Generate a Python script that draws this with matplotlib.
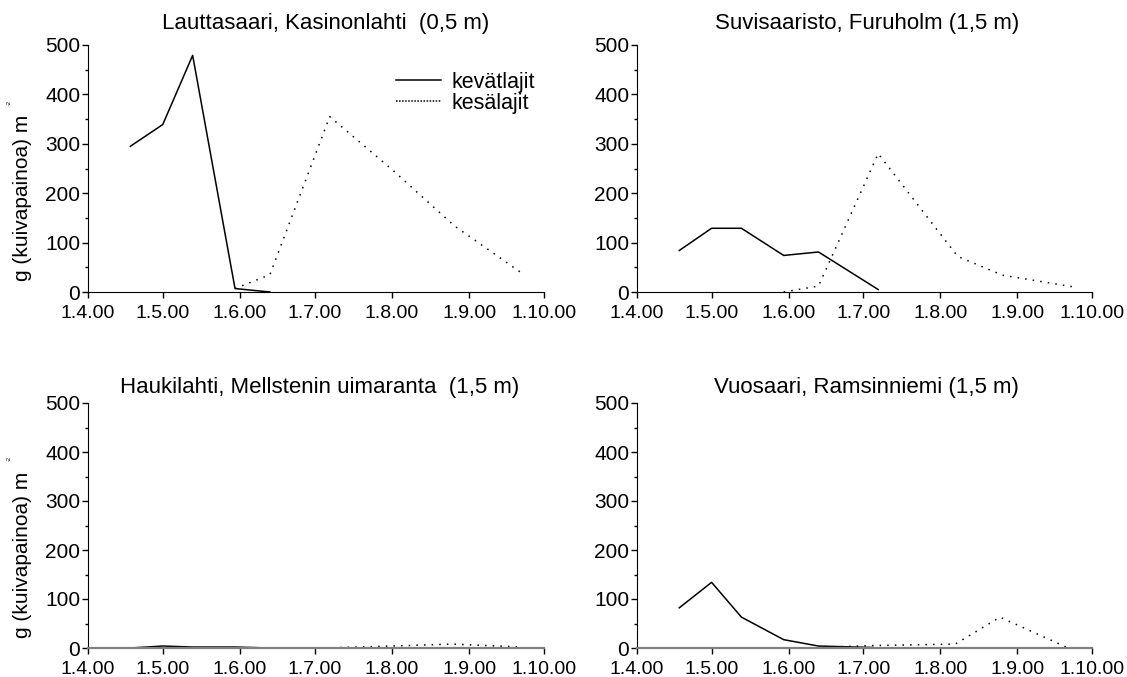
import numpy as np
import matplotlib
matplotlib.use("Agg")
import matplotlib.pyplot as plt
import matplotlib.dates as mdates
from matplotlib.ticker import MultipleLocator, FuncFormatter

plt.rcParams['font.family'] = ['Liberation Sans', 'DejaVu Sans']

# biomass, g dry weight per m2
sites = ["Lauttasaari, Kasinonlahti  (0,5 m)",
         "Suvisaaristo, Furuholm (1,5 m)",
         "Haukilahti, Mellstenin uimaranta  (1,5 m)",
         "Vuosaari, Ramsinniemi (1,5 m)"]

kevat_dates = [
    ["2000-04-18", "2000-05-01", "2000-05-13", "2000-05-30", "2000-06-13"],
    ["2000-04-18", "2000-05-01", "2000-05-13", "2000-05-30", "2000-06-13", "2000-07-07"],
    ["2000-04-18", "2000-05-01", "2000-05-13", "2000-05-30", "2000-06-13"],
    ["2000-04-18", "2000-05-01", "2000-05-13", "2000-05-30", "2000-06-13", "2000-07-05"],
]
kevat_vals = [
    [295, 339, 479, 7, 0],
    [84, 129, 129, 74, 81, 5],
    [0, 4, 2, 2, 0],
    [82, 134, 63, 17, 4, 1],
]
kesa_dates = [
    ["2000-05-30", "2000-06-13", "2000-07-07", "2000-08-01", "2000-08-26", "2000-09-23"],
    ["2000-05-30", "2000-06-13", "2000-07-07", "2000-08-08", "2000-08-26", "2000-09-24"],
    ["2000-07-05", "2000-08-07", "2000-08-25", "2000-09-22"],
    ["2000-06-13", "2000-07-05", "2000-08-07", "2000-08-25", "2000-09-21"],
]
kesa_vals = [
    [7, 35, 355, 248, 134, 35],
    [0, 12, 280, 72, 34, 10],
    [0, 5, 8, 2],
    [1, 5, 8, 63, 1],
]

W, H = 1127, 677
fig = plt.figure(figsize=(W / 100, H / 100), dpi=100)

# panel boxes in pixels: x0, x1, ytop, ybottom
boxes = [(88, 544, 45, 292), (637, 1092, 45, 292),
         (88, 544, 403, 648), (637, 1092, 403, 648)]
title_pos = [(326, 24), (867, 24), (320, 388), (866, 388)]


def fmt_date(x, pos):
    d = mdates.num2date(x)
    return f"{d.day}.{d.month}.{d:%y}"


for i, (x0, x1, yt, yb) in enumerate(boxes):
    ax = fig.add_axes([x0 / W, 1 - yb / H, (x1 - x0) / W, (yb - yt) / H])
    l1, = ax.plot(np.array(kevat_dates[i], dtype='datetime64[D]'), kevat_vals[i],
                  color='black', lw=1.1, label='kevätlajit')
    l2, = ax.plot(np.array(kesa_dates[i], dtype='datetime64[D]'), kesa_vals[i],
                  color='black', lw=1.1, linestyle=(0, (1, 4)), label='kesälajit')
    ax.set_xlim(np.datetime64('2000-04-01'), np.datetime64('2000-10-01'))
    ax.set_ylim(0, 500)
    ax.xaxis.set_major_locator(mdates.MonthLocator())
    ax.xaxis.set_major_formatter(FuncFormatter(fmt_date))
    ax.yaxis.set_major_locator(MultipleLocator(100))
    ax.yaxis.set_minor_locator(MultipleLocator(50))
    ax.tick_params(axis='x', labelsize=14, length=4, width=1, pad=5.5)
    ax.tick_params(axis='y', which='major', labelsize=15, length=4, width=1, pad=1.5)
    ax.tick_params(axis='y', which='minor', length=2.5, width=1)
    for s in ['top', 'right']:
        ax.spines[s].set_visible(False)
    if i >= 2:
        ax.spines['bottom'].set_color('#808080')
        ax.spines['bottom'].set_linewidth(1.6)
    ax.patch.set_alpha(0)
    fig.text(title_pos[i][0] / W, 1 - title_pos[i][1] / H, sites[i],
             ha='center', va='center', fontsize=16)
    if i % 2 == 0:
        yc = yb - 0.38 * (yb - yt)
        fig.text(23 / W, 1 - yc / H, "g (kuivapainoa) m", rotation=90,
                 ha='center', va='center', fontsize=15)
        fig.text(9 / W, 1 - (yc - 96) / H, "-2", rotation=90,
                 ha='center', va='center', fontsize=4)
    if i == 0:
        leg = ax.legend(handles=[l1, l2], loc='upper left', frameon=False,
                        bbox_to_anchor=(396 / W, 1 - 72 / H),
                        bbox_transform=fig.transFigure, fontsize=15.5,
                        handlelength=2.1, handletextpad=0.5, labelspacing=0.0,
                        borderpad=0, borderaxespad=0)
        leg.get_lines()[1].set_linestyle((0, (1, 1)))

fig.savefig("out.png", dpi=100)
